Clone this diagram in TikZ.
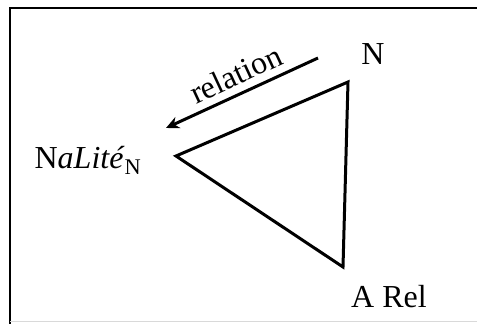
\documentclass[tikz,border=0pt]{standalone}
\usepackage{fontspec}
\setmainfont{Liberation Serif}
\usepackage{tikz}
\usetikzlibrary{arrows.meta,positioning,calc}
\newcommand{\CornerLabel}[3]{%
  \node[inner sep=0pt, font=\fontsize{32}{38}\selectfont] (#1) at (#2) {#3};
}

\begin{document}
\begin{tikzpicture}[x=1pt, y=1pt]
  \useasboundingbox (0,0) rectangle (477,324);
  % frame
  \draw[line width=2pt] (10,0) -- (10,316) -- (477,316);
  \draw[gray!30, line width=1pt] (10,2) -- (477,2);
  % corners
  \coordinate (top) at (348,242);
  \coordinate (left) at (176,168);
  \coordinate (bottom) at (343,57);
  \draw[line width=3pt, line join=miter] (top) -- (left) -- (bottom) -- cycle;
  \CornerLabel{n}{373,270}{N}
  \CornerLabel{nalite}{88,164}{N\textit{aLité}\textsubscript{N}}
  \CornerLabel{arel}{389,27}{A Rel}
  % relation arrow
  \coordinate (from) at (318,266);
  \coordinate (to) at (166,196);
  \draw[-{Stealth[length=13pt,width=12pt]}, line width=3pt] (from) -- (to);
  \node[rotate=25, inner sep=0pt, font=\fontsize{32}{38}\selectfont] (rel) at (236,250) {relation};
\end{tikzpicture}
\end{document}
